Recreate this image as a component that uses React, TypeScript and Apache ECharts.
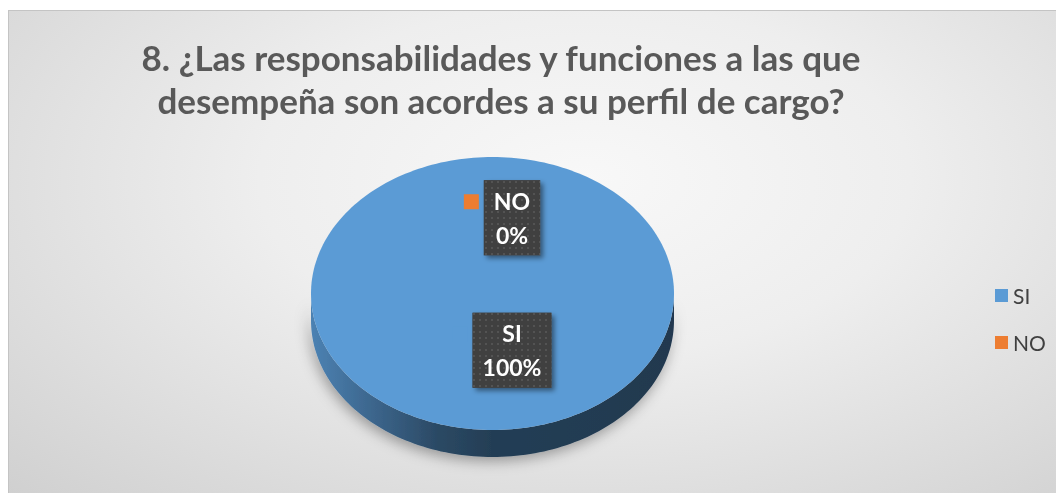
import React, { useEffect, useRef } from 'react';
import * as echarts from 'echarts';

// ---------- data ----------
const categories: string[] = ['SI', 'NO'];
const values: number[] = [100, 0];
const sliceColors: string[] = ['#5B9BD5', '#ED7D31'];
const titleLines: string[] = [
  '8. ¿Las responsabilidades y funciones a las que',
  'desempeña son acordes a su perfil de cargo?',
];

// ---------- layout / style ----------
const W = 1047;
const H = 482;
const CX = 483.5;
const CY = 282.5;
const RX = 181.5;
const RY = 136.5;
const DEPTH = 27;
const LABEL_SHIFT_X = 9.5;
const LABEL_FONT_FAMILY = 'Lato';
const LABEL_FONT_SIZE = 23;
const LABEL_LINE_H = 34;
const LABEL_BOX_H = 75;
const LABEL_PAD_X = 10;
const KEY_SIZE = 15;
const KEY_GAP = 5;
const TWO_PI = Math.PI * 2;

function shade(hex: string, f: number): string {
  const n = parseInt(hex.slice(1), 16);
  const r = Math.round(((n >> 16) & 255) * f);
  const g = Math.round(((n >> 8) & 255) * f);
  const b = Math.round((n & 255) * f);
  return `rgb(${r},${g},${b})`;
}

function ellPt(t: number, dy = 0): number[] {
  return [CX + RX * Math.sin(t), CY - RY * Math.cos(t) + dy];
}

function arcPts(a0: number, a1: number, dy = 0): number[][] {
  const n = Math.max(2, Math.ceil(((a1 - a0) / TWO_PI) * 240));
  const pts: number[][] = [];
  for (let i = 0; i <= n; i++) {
    const t = a0 + ((a1 - a0) * i) / n;
    pts.push(ellPt(t, dy));
  }
  return pts;
}

function sliceAngles(): number[][] {
  const total = values.reduce((s, v) => s + v, 0) || 1;
  let acc = 0;
  return values.map((v) => {
    const a0 = (acc / total) * TWO_PI;
    acc += v;
    const a1 = (acc / total) * TWO_PI;
    return [a0, a1];
  });
}

function makePattern(): HTMLCanvasElement {
  const c = document.createElement('canvas');
  c.width = 6;
  c.height = 6;
  const ctx = c.getContext('2d')!;
  ctx.fillStyle = '#404040';
  ctx.fillRect(0, 0, 6, 6);
  ctx.fillStyle = '#535353';
  ctx.fillRect(2, 2, 2, 2);
  return c;
}

function measure(text: string): number {
  const c = document.createElement('canvas');
  const ctx = c.getContext('2d')!;
  ctx.font = `bold ${LABEL_FONT_SIZE}px ${LABEL_FONT_FAMILY}`;
  return ctx.measureText(text).width;
}

export default function App() {
  const ref = useRef<HTMLDivElement>(null);

  useEffect(() => {
    if (!ref.current) return;
    const chart = echarts.init(ref.current, undefined, { renderer: 'svg' });
    const angles = sliceAngles();
    const total = values.reduce((s, v) => s + v, 0) || 1;
    const patternCanvas = makePattern();

    const sliceSeries = categories.map((name, i) => ({
      type: 'custom',
      name,
      coordinateSystem: 'none',
      silent: true,
      z: 2,
      itemStyle: { color: sliceColors[i] },
      data: [[values[i], i]],
      renderItem: (_params: any, api: any) => {
        const idx = api.value(1) as number;
        const [a0, a1] = angles[idx];
        const color = sliceColors[idx];
        const children: any[] = [];
        if (a1 - a0 > 1e-6) {
          const full = a1 - a0 >= TWO_PI - 1e-6;
          const s = Math.max(a0, Math.PI / 2);
          const e = Math.min(a1, (3 * Math.PI) / 2);
          if (e > s) {
            const top = arcPts(s, e, 0);
            const bot = arcPts(s, e, DEPTH).reverse();
            children.push({
              type: 'polygon',
              shape: { points: top.concat(bot) },
              style: {
                fill: {
                  type: 'linear',
                  x: 0,
                  y: 0,
                  x2: 1,
                  y2: 0,
                  colorStops: [
                    { offset: 0, color: shade(color, 0.84) },
                    { offset: 0.15, color: shade(color, 0.68) },
                    { offset: 0.35, color: shade(color, 0.47) },
                    { offset: 0.5, color: shade(color, 0.4) },
                    { offset: 1, color: shade(color, 0.37) },
                  ],
                },
                shadowBlur: 14,
                shadowColor: 'rgba(0,0,0,0.35)',
                shadowOffsetX: -2,
                shadowOffsetY: 4,
              },
            });
          }
          if (!full) {
            [a0, a1].forEach((t) => {
              const p = ellPt(t);
              children.push({
                type: 'polygon',
                shape: { points: [[CX, CY], p, [p[0], p[1] + DEPTH], [CX, CY + DEPTH]] },
                style: { fill: shade(color, 0.6) },
              });
            });
          }
          const pts = full ? arcPts(0, TWO_PI) : [[CX, CY]].concat(arcPts(a0, a1));
          children.push({ type: 'polygon', shape: { points: pts }, style: { fill: color } });
        }
        return { type: 'group', children };
      },
    }));

    const labelSeries = {
      type: 'custom',
      name: 'labels',
      coordinateSystem: 'none',
      silent: true,
      z: 5,
      data: categories.map((_c, i) => [values[i], i]),
      renderItem: (_params: any, api: any) => {
        const idx = api.value(1) as number;
        const [a0, a1] = angles[idx];
        const mid = (a0 + a1) / 2;
        const f = 0.485 + 0.07 * Math.cos(mid);
        const gx = CX + RX * f * Math.sin(mid) + LABEL_SHIFT_X;
        const by = CY - RY * f * Math.cos(mid);
        const pct = Math.round((values[idx] / total) * 100);
        const line1 = categories[idx];
        const line2 = `${pct}%`;
        const w = Math.max(measure(line1), measure(line2)) + LABEL_PAD_X * 2;
        const groupW = KEY_SIZE + KEY_GAP + w;
        const left = gx - groupW / 2;
        const boxX = left + KEY_SIZE + KEY_GAP;
        const boxY = by - LABEL_BOX_H / 2;
        return {
          type: 'group',
          children: [
            {
              type: 'rect',
              shape: { x: left, y: boxY + 14, width: KEY_SIZE, height: KEY_SIZE },
              style: { fill: sliceColors[idx] },
            },
            {
              type: 'rect',
              shape: { x: boxX, y: boxY, width: w, height: LABEL_BOX_H },
              style: {
                fill: '#404040',
                shadowBlur: 5,
                shadowColor: 'rgba(0,0,0,0.45)',
                shadowOffsetX: 3,
                shadowOffsetY: 3,
              },
            },
            {
              type: 'rect',
              shape: { x: boxX, y: boxY, width: w, height: LABEL_BOX_H },
              style: {
                fill: { image: patternCanvas, repeat: 'repeat', imageWidth: 6, imageHeight: 6 },
              },
            },
            {
              type: 'text',
              x: boxX + w / 2,
              y: by,
              style: {
                text: `${line1}\n${line2}`,
                fill: '#ffffff',
                fontFamily: LABEL_FONT_FAMILY,
                fontWeight: 'bold',
                fontSize: LABEL_FONT_SIZE,
                lineHeight: LABEL_LINE_H,
                align: 'center',
                verticalAlign: 'middle',
              },
            },
          ],
        };
      },
    };

    chart.setOption({
      animation: false,
      backgroundColor: 'transparent',
      title: {
        text: titleLines.join('\n'),
        left: 492,
        top: 24,
        textAlign: 'center',
        padding: 0,
        textStyle: {
          fontFamily: 'Lato',
          fontWeight: 'bold',
          fontSize: 35,
          lineHeight: 43,
          color: '#595959',
        },
      },
      legend: {
        data: categories,
        orient: 'vertical',
        left: 981,
        top: 269,
        itemWidth: 13,
        itemHeight: 13,
        itemGap: 26,
        icon: 'rect',
        selectedMode: false,
        textStyle: { fontFamily: 'Lato', fontSize: 21, lineHeight: 20, color: '#404040' },
      },
      series: [...sliceSeries, labelSeries],
    } as any);

    return () => chart.dispose();
  }, []);

  return (
    <div
      style={{
        position: 'fixed',
        left: 8,
        top: 10,
        width: W + 1,
        height: H + 1,
        boxSizing: 'border-box',
        borderTop: '1px solid #c4c4c4',
        borderLeft: '1px solid #c4c4c4',
        background:
          'radial-gradient(ellipse at 55% 35%, #f8f8f8 0%, #eeeeee 40%, #d0d0d0 100%)',
      }}
    >
      <div ref={ref} style={{ width: W, height: H }} />
    </div>
  );
}
